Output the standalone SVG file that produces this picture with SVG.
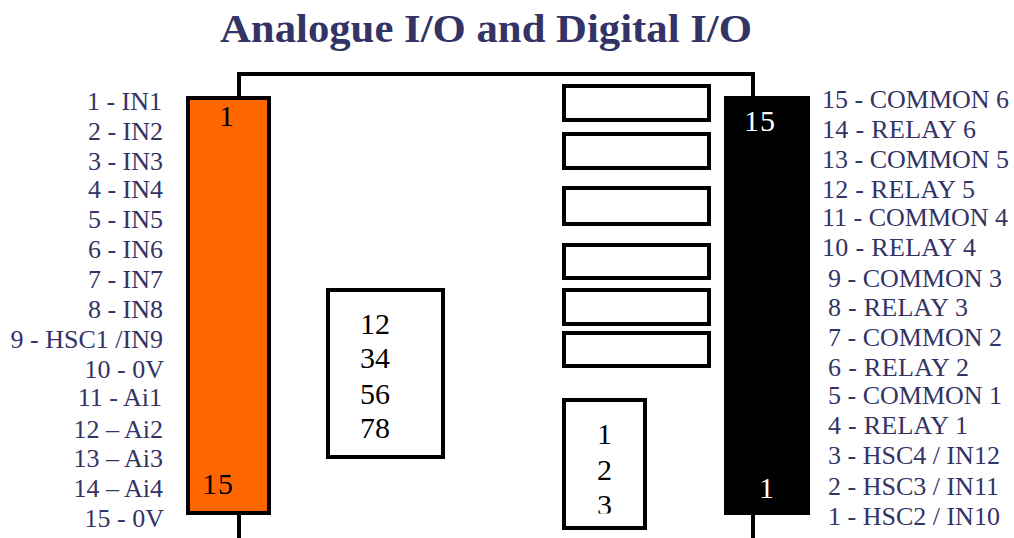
<svg xmlns="http://www.w3.org/2000/svg" width="1014" height="538" viewBox="0 0 1014 538">
<style>
text{font-family:"Liberation Serif","Times New Roman",serif}
.t{font-size:39px;font-weight:bold;fill:#333366}
.l{font-size:26px;fill:#333366}
.e{text-anchor:end}
.n{font-size:30px;fill:#000}
.w{font-size:30px;fill:#fff}
.s{letter-spacing:1px}
.b{fill:#fff;stroke:#000;stroke-width:4}
.c{fill:none;stroke:#000;stroke-width:4}
</style>
<defs><clipPath id="clip3"><rect x="566" y="402" width="77" height="111.4"/></clipPath></defs>
<rect width="1014" height="538" fill="#fff"/>
<text class="t" x="220" y="42" textLength="532" lengthAdjust="spacingAndGlyphs">Analogue I/O and Digital I/O</text>
<g id="connectors">
<path class="c" d="M239 98V74H753V97"/>
<path class="c" d="M239 514V538"/>
<path class="c" d="M753 514V538"/>
</g>
<g id="left-connector">
<rect x="188" y="98" width="81" height="415" fill="#ff6600" stroke="#000" stroke-width="4"/>
<text class="n" x="219" y="126">1</text>
<text class="n s" x="202" y="494">15</text>
</g>
<g id="right-connector">
<rect x="724" y="96" width="86" height="419" fill="#000"/>
<text class="w s" x="744" y="131">15</text>
<text class="w" x="759" y="498">1</text>
</g>
<g id="left-labels" class="l e">
<text x="162" y="110">1 - IN1</text>
<text x="163" y="140">2 - IN2</text>
<text x="163" y="170">3 - IN3</text>
<text x="163" y="198">4 - IN4</text>
<text x="163" y="228">5 - IN5</text>
<text x="163" y="258">6 - IN6</text>
<text x="163" y="288">7 - IN7</text>
<text x="163" y="318">8 - IN8</text>
<text x="163" y="348">9 - HSC1 /IN9</text>
<text x="164" y="378">10 - 0V</text>
<text x="162" y="406">11 - Ai1</text>
<text x="163" y="438">12 – Ai2</text>
<text x="163" y="467">13 – Ai3</text>
<text x="163" y="497">14 – Ai4</text>
<text x="164" y="527">15 - 0V</text>
</g>
<g id="right-labels" class="l">
<text x="822" y="108">15 - COMMON 6</text>
<text x="822" y="138" textLength="154">14 - RELAY 6</text>
<text x="822" y="168">13 - COMMON 5</text>
<text x="822" y="198" textLength="153">12 - RELAY 5</text>
<text x="822" y="226">11 - COMMON 4</text>
<text x="822" y="256" textLength="154">10 - RELAY 4</text>
<text x="828" y="287">9 - COMMON 3</text>
<text x="828" y="316" textLength="140">8 - RELAY 3</text>
<text x="828" y="346">7 - COMMON 2</text>
<text x="828" y="376" textLength="141">6 - RELAY 2</text>
<text x="828" y="404">5 - COMMON 1</text>
<text x="828" y="434" textLength="140">4 - RELAY 1</text>
<text x="828" y="464">3 - HSC4 / IN12</text>
<text x="828" y="495">2 - HSC3 / IN11</text>
<text x="828" y="525">1 - HSC2 / IN10</text>
</g>
<g id="relay-1"><rect class="b" x="564" y="86" width="145" height="34"/></g>
<g id="relay-2"><rect class="b" x="564" y="134" width="145" height="34"/></g>
<g id="relay-3"><rect class="b" x="564" y="188" width="145" height="36"/></g>
<g id="relay-4"><rect class="b" x="564" y="245" width="145" height="33"/></g>
<g id="relay-5"><rect class="b" x="564" y="290" width="145" height="34"/></g>
<g id="relay-6"><rect class="b" x="564" y="333" width="145" height="33"/></g>
<g id="dip-switch">
<rect class="b" x="328" y="290" width="115" height="167"/>
<text class="n" x="360" y="334">12</text>
<text class="n" x="360" y="368">34</text>
<text class="n" x="360" y="404">56</text>
<text class="n" x="360" y="438">78</text>
</g>
<g id="switch-123">
<rect class="b" x="564" y="400" width="81" height="128"/>
<text class="n" x="597" y="444">1</text>
<text class="n" x="597" y="480">2</text>
<text class="n" x="597" y="515" clip-path="url(#clip3)">3</text>
</g>
</svg>
